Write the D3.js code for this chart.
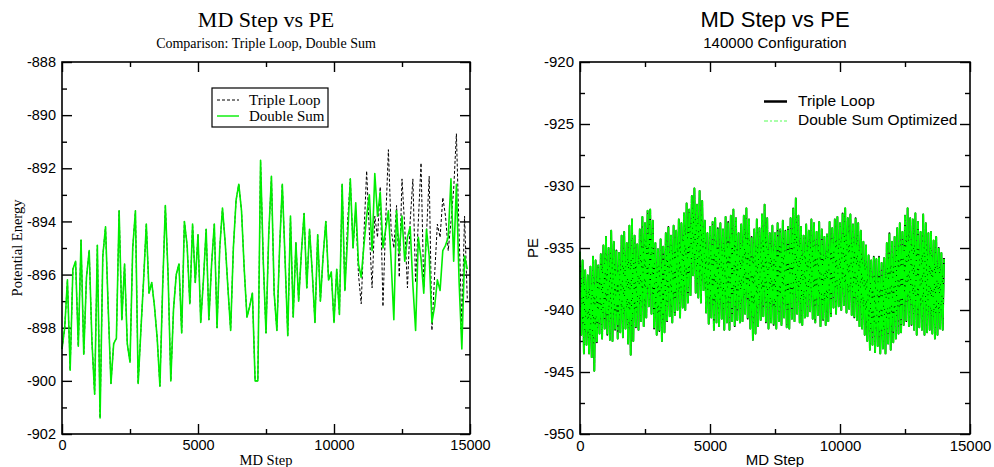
<!DOCTYPE html>
<meta charset="utf-8">
<style>
body { margin: 0; background: #fff; }
</style>
<body>
<script src="https://d3js.org/d3.v7.min.js"></script>
<script>
// ---- left panel: PE every 100 MD steps ----
var leftStepSize = 100;
var doubleSumLeft = [
  -898.8, -898.0, -896.2, -899.6, -895.8, -895.5, -898.7, -894.7, -899.0, -896.1,
  -895.1, -898.5, -900.5, -894.9, -901.4, -895.3, -894.2, -897.3, -900.1, -898.6,
  -898.4, -893.6, -897.7, -895.6, -898.6, -899.3, -895.0, -893.6, -900.1, -898.1,
  -896.2, -894.1, -896.7, -896.3, -897.2, -898.4, -900.2, -896.5, -893.4, -896.0,
  -900.0, -897.3, -896.0, -895.6, -898.2, -894.0, -894.9, -897.1, -894.1, -896.3,
  -894.5, -897.8, -896.2, -894.3, -897.7, -895.6, -894.1, -898.0, -895.0, -893.5,
  -894.8, -896.5, -898.1, -895.0, -893.2, -892.6, -893.6, -895.8, -897.6, -897.2,
  -896.7, -900.0, -900.0, -891.7, -895.5, -898.2, -894.5, -892.3, -896.7, -898.1,
  -895.0, -892.6, -895.4, -898.3, -893.8, -897.6, -894.8, -897.0, -895.2, -893.7,
  -896.5, -894.3, -895.9, -897.8, -894.5, -897.0, -895.3, -894.0, -896.2, -895.9,
  -897.8, -895.8, -897.5, -892.6, -896.6, -894.6, -892.4, -895.0, -893.3, -895.6,
  -896.1, -894.9, -893.8, -893.0, -895.1, -892.2, -893.8, -892.9, -895.0, -894.3,
  -893.6, -895.5, -897.7, -893.6, -895.2, -893.8, -895.5, -894.6, -894.2, -896.4,
  -898.1, -894.6, -895.4, -896.7, -894.3, -895.3, -897.8, -897.2, -896.2, -896.6,
  -895.1, -894.9, -894.6, -892.4, -895.5, -892.6, -896.3, -898.8, -895.3, -895.8
];
// both methods agree up to step 10200, then drift apart
var tripleLoopLeft = doubleSumLeft.slice(0, 103).concat([
  -892.6, -896.6, -894.0, -892.4, -895.0, -893.6, -896.0,
  -897.1, -894.5, -892.1, -894.4, -896.5, -893.8, -894.6, -892.7, -897.2, -894.0,
  -891.3, -894.3, -895.0, -893.4, -896.1, -892.4, -894.2, -896.5, -894.0, -892.4,
  -896.3, -894.0, -891.8, -896.5, -894.5, -892.3, -898.1, -896.0, -894.1, -894.6,
  -893.1, -893.8, -895.1, -894.0, -892.8, -890.7, -894.5, -897.9, -893.8, -896.9
]);

// ---- right panel: 140000 configuration, PE every 50 MD steps ----
var rightStepSize = 50;
var pe140k = [
  -935.3, -942.0, -936.0, -943.5, -936.8, -942.8, -937.2, -943.5, -936.5, -943.8,
  -935.7, -944.9, -936.0, -942.6, -936.4, -941.9, -935.5, -942.3, -934.8, -941.5,
  -934.1, -942.0, -935.0, -942.4, -933.6, -942.5, -934.5, -941.6, -935.2, -942.3,
  -935.4, -941.8, -934.0, -942.2, -933.7, -941.5, -934.6, -942.7, -933.2, -943.6,
  -932.7, -942.5, -934.0, -941.4, -934.7, -941.6, -933.5, -940.9, -932.5, -941.3,
  -933.0, -940.6, -932.0, -939.7, -931.9, -940.3, -932.8, -941.5, -934.6, -942.0,
  -935.1, -941.7, -934.3, -942.5, -934.9, -941.8, -933.8, -940.9, -933.3, -940.5,
  -934.0, -941.0, -933.2, -940.4, -933.6, -940.0, -932.7, -940.6, -933.0, -939.8,
  -932.2, -940.0, -931.4, -939.4, -931.9, -938.8, -930.8, -937.2, -930.2, -938.6,
  -931.5, -939.0, -930.4, -939.4, -931.2, -938.4, -932.8, -940.2, -933.8, -941.1,
  -933.3, -940.6, -932.9, -941.6, -932.6, -941.0, -933.4, -941.3, -933.0, -940.7,
  -933.5, -941.6, -932.5, -941.0, -932.9, -941.6, -932.4, -940.9, -931.9, -941.3,
  -932.6, -940.8, -933.8, -941.0, -933.1, -940.9, -932.4, -940.3, -931.8, -940.7,
  -932.7, -941.5, -934.1, -942.4, -933.5, -941.9, -932.7, -941.3, -933.4, -940.8,
  -932.3, -940.5, -931.5, -941.0, -932.6, -941.5, -933.8, -941.0, -933.2, -941.2,
  -933.8, -941.5, -933.0, -940.9, -933.5, -941.2, -932.8, -940.6, -933.6, -941.4,
  -933.3, -941.5, -932.6, -940.7, -931.8, -940.9, -931.0, -940.3, -932.4, -941.0,
  -933.3, -941.2, -934.0, -940.6, -933.1, -940.5, -933.6, -940.1, -932.7, -940.7,
  -933.0, -941.0, -933.7, -940.4, -932.9, -941.3, -933.5, -940.8, -934.1, -941.2,
  -933.9, -940.9, -932.9, -940.5, -933.4, -939.8, -932.7, -940.3, -932.5, -939.7,
  -933.0, -940.0, -932.2, -939.6, -931.8, -940.2, -932.6, -939.9, -932.3, -940.4,
  -933.1, -940.6, -932.6, -940.8, -933.0, -941.3, -933.6, -941.5, -934.5, -942.0,
  -934.8, -942.5, -935.6, -943.2, -936.0, -942.8, -935.7, -943.4, -935.9, -942.9,
  -935.7, -943.5, -936.2, -943.1, -935.8, -943.5, -934.6, -942.7, -933.8, -943.2,
  -934.5, -942.6, -934.1, -942.3, -933.4, -941.9, -933.0, -941.8, -933.7, -941.2,
  -932.4, -940.9, -931.8, -941.3, -932.6, -941.2, -932.7, -941.6, -932.2, -942.0,
  -932.9, -941.4, -933.7, -941.6, -932.3, -942.0, -933.0, -941.8, -933.8, -941.6,
  -933.7, -941.9, -934.4, -942.3, -934.1, -942.0, -935.0, -941.5, -935.4, -941.6,
  -935.8
];

// ---- tick values ----
var xMajor = [0, 5000, 10000, 15000], xMinor = [2500, 7500, 12500];
var leftYMajor = [-902, -900, -898, -896, -894, -892, -890, -888];
var leftYMinor = [-901, -899, -897, -895, -893, -891, -889];
var rightYMajor = [-950, -945, -940, -935, -930, -925, -920];
var rightYMinor = [-947.5, -942.5, -937.5, -932.5, -927.5, -922.5];

var svg = d3.select("body").append("svg")
    .attr("width", 994)
    .attr("height", 467);

function toPoints(vals, stepSize) {
  return vals.map(function(v, i) { return {step: i * stepSize, pe: v}; });
}

function panel(p) {
  var x = d3.scaleLinear().domain([0, 15000]).range([p.left, p.right]);
  var y = d3.scaleLinear().domain(p.yDomain).range([p.bottom, p.top]);
  var g = svg.append("g").style("font-family", p.font);
  var fmt = function(d) { return String(d); };

  // inward ticks on all four sides, labels only left/bottom
  function ax(fn, scale, vals, size, tr, labels) {
    g.append("g")
        .attr("transform", tr)
        .call(fn(scale).tickValues(vals).tickSize(-size).tickSizeOuter(0)
          .tickPadding(6).tickFormat(labels ? fmt : ""))
        .call(function(s) {
          s.select(".domain").remove();
          s.selectAll("line").attr("stroke", "#000").attr("stroke-width", 1.4);
          s.selectAll("text").attr("fill", "#000").style("font-size", p.tickSize + "px");
        });
  }
  ax(d3.axisBottom, x, xMajor, 10, "translate(0," + p.bottom + ")", true);
  ax(d3.axisBottom, x, xMinor, 5, "translate(0," + p.bottom + ")", false);
  ax(d3.axisTop, x, xMajor, 10, "translate(0," + p.top + ")", false);
  ax(d3.axisTop, x, xMinor, 5, "translate(0," + p.top + ")", false);
  ax(d3.axisLeft, y, p.yMajor, 10, "translate(" + p.left + ",0)", true);
  ax(d3.axisLeft, y, p.yMinor, 5, "translate(" + p.left + ",0)", false);
  ax(d3.axisRight, y, p.yMajor, 10, "translate(" + p.right + ",0)", false);
  ax(d3.axisRight, y, p.yMinor, 5, "translate(" + p.right + ",0)", false);

  var line = d3.line()
      .x(function(d) { return x(d.step); })
      .y(function(d) { return y(d.pe); });

  p.series.forEach(function(s) {
    g.append("path")
        .datum(s.data)
        .attr("fill", "none")
        .attr("stroke", s.color)
        .attr("stroke-width", s.width)
        .attr("stroke-dasharray", s.dash || null)
        .attr("stroke-linejoin", "round")
        .attr("d", line);
  });

  g.append("rect")
      .attr("x", p.left).attr("y", p.top)
      .attr("width", p.right - p.left).attr("height", p.bottom - p.top)
      .attr("fill", "none").attr("stroke", "#000").attr("stroke-width", 1.6);

  var cx = (p.left + p.right) / 2;
  g.append("text").attr("x", cx).attr("y", 27)
      .attr("text-anchor", "middle").style("font-size", p.titleSize + "px").text(p.title);
  g.append("text").attr("x", cx).attr("y", 48)
      .attr("text-anchor", "middle").style("font-size", p.subSize + "px").text(p.subtitle);
  g.append("text").attr("x", cx).attr("y", 465)
      .attr("text-anchor", "middle").style("font-size", p.labelSize + "px").text("MD Step");
  g.append("text")
      .attr("transform", "translate(" + p.yLabelX + "," + ((p.top + p.bottom) / 2) + ") rotate(-90)")
      .attr("text-anchor", "middle").style("font-size", p.labelSize + "px").text(p.yLabel);

  return g;
}

var left = panel({
  left: 62, right: 470, top: 62, bottom: 434,
  yDomain: [-902, -888], yMajor: leftYMajor, yMinor: leftYMinor,
  font: "'Liberation Serif', 'Times New Roman', serif",
  tickSize: 14.5, titleSize: 22, subSize: 14, labelSize: 14.5,
  title: "MD Step vs PE", subtitle: "Comparison: Triple Loop, Double Sum",
  yLabel: "Potential Energy", yLabelX: 22,
  series: [
    {data: toPoints(tripleLoopLeft, leftStepSize), color: "#000", width: 1, dash: "3,2"},
    {data: toPoints(doubleSumLeft, leftStepSize), color: "#00ee00", width: 1.6}
  ]
});

var right = panel({
  left: 580, right: 970, top: 62, bottom: 434,
  yDomain: [-950, -920], yMajor: rightYMajor, yMinor: rightYMinor,
  font: "'Liberation Sans', Arial, sans-serif",
  tickSize: 15, titleSize: 22, subSize: 15, labelSize: 15,
  title: "MD Step vs PE", subtitle: "140000 Configuration",
  yLabel: "PE", yLabelX: 538,
  series: [
    {data: toPoints(pe140k, rightStepSize), color: "#000", width: 1.8},
    {data: toPoints(pe140k, rightStepSize), color: "#00ff00", width: 1.9, dash: "14,1,4,1"}
  ]
});

// ---- legends ----
var lg = left.append("g");
lg.append("rect").attr("x", 212).attr("y", 88).attr("width", 116).attr("height", 39)
    .attr("fill", "#fff").attr("stroke", "#000").attr("stroke-width", 1.2);
lg.append("line").attr("x1", 217).attr("x2", 239).attr("y1", 100).attr("y2", 100)
    .attr("stroke", "#000").attr("stroke-width", 1).attr("stroke-dasharray", "3,2");
lg.append("line").attr("x1", 217).attr("x2", 239).attr("y1", 116).attr("y2", 116)
    .attr("stroke", "#00ee00").attr("stroke-width", 1.4);
lg.append("text").attr("x", 249).attr("y", 105).style("font-size", "15px").text("Triple Loop");
lg.append("text").attr("x", 249).attr("y", 121).style("font-size", "15px").text("Double Sum");

var rg = right.append("g");
rg.append("line").attr("x1", 764).attr("x2", 787).attr("y1", 101.5).attr("y2", 101.5)
    .attr("stroke", "#000").attr("stroke-width", 2.5);
rg.append("line").attr("x1", 764).attr("x2", 787).attr("y1", 121).attr("y2", 121)
    .attr("stroke", "#55ff55").attr("stroke-width", 1).attr("stroke-dasharray", "4,2,2,2");
rg.append("text").attr("x", 798).attr("y", 106).style("font-size", "15.5px").text("Triple Loop");
rg.append("text").attr("x", 798).attr("y", 125).style("font-size", "15.5px").text("Double Sum Optimized");
</script>
